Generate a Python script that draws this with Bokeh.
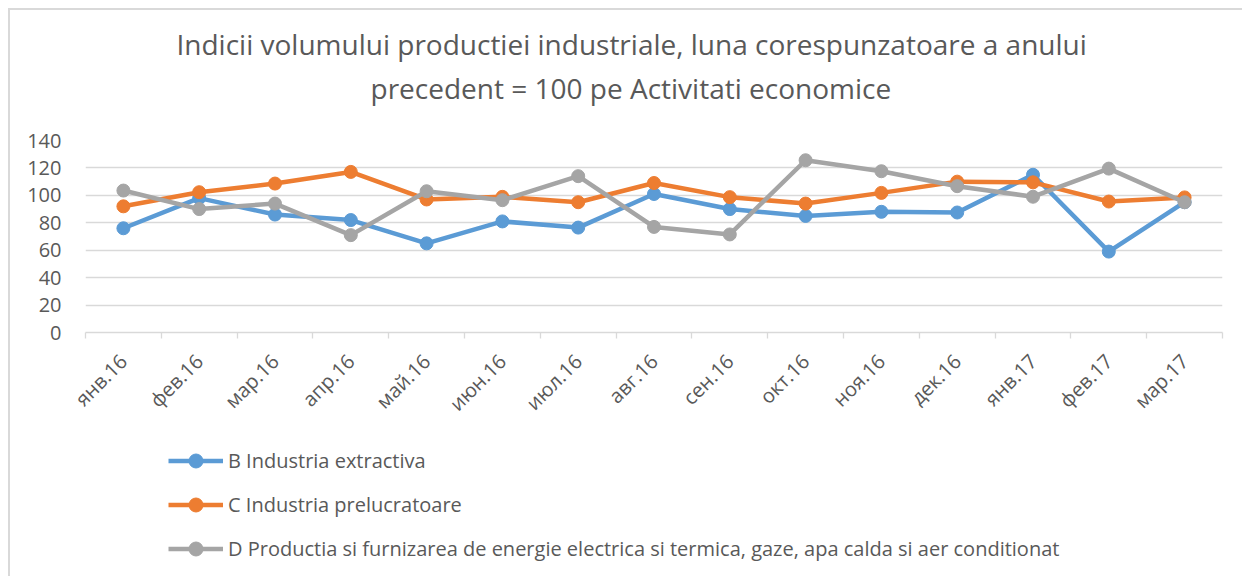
from bokeh.plotting import figure
from bokeh.layouts import column
from bokeh.models import (Range1d, FixedTicker, LinearAxis, Title, Legend, LegendItem)
from bokeh.embed import file_html
from bokeh.resources import INLINE

months = ["янв.16", "фев.16", "мар.16", "апр.16", "май.16", "июн.16", "июл.16",
          "авг.16", "сен.16", "окт.16", "ноя.16", "дек.16", "янв.17", "фев.17", "мар.17"]
series_b = [76, 98, 86, 82, 65, 81, 76.5, 101, 90, 85, 88, 87.5, 115, 59, 95]
series_c = [92, 102.3, 108.6, 117.1, 97, 98.9, 95, 109, 98.7, 94, 101.8, 110, 109.5, 95.5, 98.5]
series_d = [103.5, 90, 94, 71, 103, 96.5, 114, 77, 71.5, 125.6, 117.6, 106.7, 99, 119.5, 95]
names = ["B Industria extractiva", "C Industria prelucratoare",
         "D Productia si furnizarea de energie electrica si termica, gaze, apa calda si aer conditionat"]
colors = ["#5B9BD5", "#ED7D31", "#A5A5A5"]
y_ticks = [0, 20, 40, 60, 80, 100, 120, 140]
title_lines = ["Indicii volumului productiei industriale,  luna corespunzatoare a anului",
               "precedent = 100 pe Activitati economice"]

FONT = "Open Sans"
TXT = "#595959"
GRID = "#D9D9D9"

xs = list(range(len(months)))
bounds = [i - 0.5 for i in range(len(months) + 1)]
all_series = [series_b, series_c, series_d]

p = figure(width=1242, height=430, output_backend="svg", toolbar_location=None,
           title=None, x_axis_location=None,
           x_range=Range1d(-0.5, len(months) - 0.5), y_range=Range1d(0, 140),
           min_border_left=85, min_border_right=20, min_border_top=140, min_border_bottom=98)
p.outline_line_color = None
p.background_fill_color = "white"
p.border_fill_color = None

# titles (added nearest-first)
t2 = Title(text=title_lines[1], align="left", offset=285, text_font=FONT,
           text_font_size="28px", text_font_style="normal", text_color=TXT, standoff=8,
           padding=(0, 0, 0, 30))
t1 = Title(text=title_lines[0], align="left", offset=91, text_font=FONT,
           text_font_size="28px", text_font_style="normal", text_color=TXT, standoff=0)
p.add_layout(t2, "above")
p.add_layout(t1, "above")

# y axis
ya = p.yaxis[0]
ya.ticker = FixedTicker(ticks=y_ticks)
ya.axis_line_color = None
ya.major_tick_line_color = None
ya.minor_tick_line_color = None
ya.major_label_text_font = FONT
ya.major_label_text_font_size = "20px"
ya.major_label_text_color = TXT
ya.major_label_standoff = 18
p.ygrid.grid_line_color = GRID
p.ygrid.grid_line_width = 1.3
p.xgrid.grid_line_color = None

# x axis: labels at category centres, small ticks at category boundaries
xa = LinearAxis(ticker=FixedTicker(ticks=xs, minor_ticks=bounds),
                major_label_overrides={i: m for i, m in enumerate(months)})
xa.axis_line_color = GRID
xa.axis_line_width = 1.3
xa.major_tick_line_color = None
xa.major_tick_out = 0
xa.major_tick_in = 0
xa.minor_tick_line_color = GRID
xa.minor_tick_line_width = 1.3
xa.minor_tick_in = 0
xa.minor_tick_out = 6
xa.major_label_orientation = 0.7853981634
xa.major_label_text_font = FONT
xa.major_label_text_font_size = "20px"
xa.major_label_text_color = TXT
xa.major_label_standoff = 19
p.add_layout(xa, "below")

for vals, col in zip(all_series, colors):
    p.line(xs, vals, line_color=col, line_width=4.5)
    p.scatter(xs, vals, size=13, fill_color=col, line_color=col)

# legend strip below the chart (series drawn off-frame, only their legend swatches show)
p2 = figure(width=1242, height=146, output_backend="svg", toolbar_location=None,
            title=None, x_axis_location=None, y_axis_location=None,
            x_range=Range1d(1000, 1001), y_range=Range1d(1000, 1001),
            min_border_left=0, min_border_right=0, min_border_top=0, min_border_bottom=0)
p2.outline_line_color = None
p2.background_fill_color = None
p2.border_fill_color = None
p2.xgrid.visible = False
p2.ygrid.visible = False

items = []
for name, vals, col in zip(names, all_series, colors):
    r1 = p2.line(xs, vals, line_color=col, line_width=4.5)
    r2 = p2.scatter(xs, vals, size=13, fill_color=col, line_color=col)
    items.append(LegendItem(label=name, renderers=[r1, r2]))

legend = Legend(items=items, location=(83, 10), orientation="vertical",
                glyph_width=55, glyph_height=35, label_height=20, spacing=9,
                padding=5, margin=0, label_standoff=5,
                label_text_font=FONT, label_text_font_size="20px", label_text_color=TXT,
                border_line_color=None, background_fill_alpha=0)
p2.add_layout(legend, "center")

layout = column(p, p2, spacing=0)
layout.styles = {"background": ("linear-gradient(#D9D9D9,#D9D9D9) 8px 8px / 2px 100% no-repeat, "
                                "linear-gradient(#D9D9D9,#D9D9D9) 8px 8px / 100% 2px no-repeat, #FFFFFF")}

open("out.html", "w").write(file_html(layout, INLINE))
